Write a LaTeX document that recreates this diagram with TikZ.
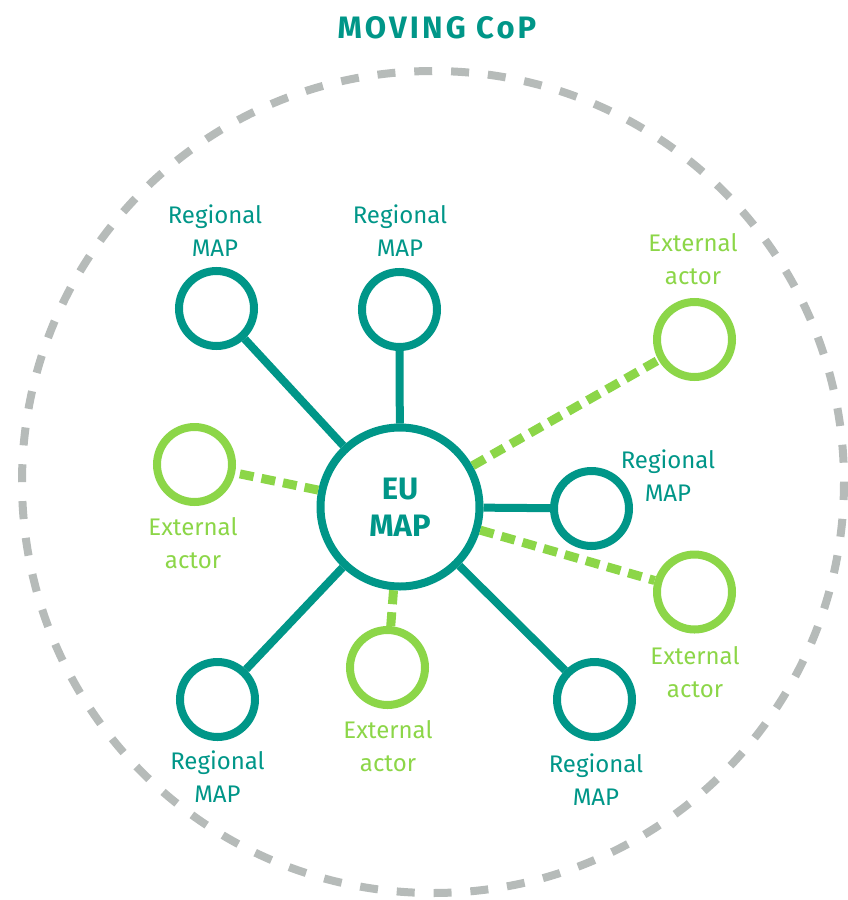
\documentclass[tikz,border=0pt]{standalone}
\usepackage{fontspec}
\setmainfont{Fira Sans}
\newfontfamily\titlefont[LetterSpace=10]{Fira Sans}
\definecolor{cteal}{RGB}{0,150,136}
\definecolor{cgreen}{RGB}{140,214,72}
\definecolor{cgray}{RGB}{182,187,185}
\begin{document}
\begin{tikzpicture}[x=1pt,y=-1pt,
  regnode/.style={circle,draw=cteal,line width=8pt,minimum size=75pt,inner sep=0pt},
  extnode/.style={circle,draw=cgreen,line width=8pt,minimum size=75pt,inner sep=0pt},
  eunode/.style={circle,draw=cteal,line width=8pt,minimum size=159pt,inner sep=0pt},
  reglabel/.style={text=cteal,font=\fontsize{24pt}{33pt}\selectfont,align=center,anchor=base,inner sep=0pt},
  extlabel/.style={text=cgreen,font=\fontsize{24pt}{33pt}\selectfont,align=center,anchor=base,inner sep=0pt},
  solidlink/.style={draw=cteal,line width=8pt},
  dashlink/.style={draw=cgreen,line width=9pt,dash pattern=on 14pt off 8pt},
]
\useasboundingbox (0,0) rectangle (848,900);
% outer dashed community circle
\draw[cgray,line width=8pt,dash pattern=on 18pt off 18.89pt] (433,482) circle[radius=411];
\node[text=cteal,font=\titlefont\fontsize{31pt}{36pt}\selectfont\bfseries,anchor=base,inner sep=0pt] (title) at (437,38) {MOVING CoP};

% central node
\node[eunode,text=cteal,font=\fontsize{31pt}{37pt}\selectfont\bfseries,align=center] (eu) at (400,507) {EU\\MAP};

% regional MAP nodes
\node[regnode] (r1) at (216.5,308.5) {};
\node[regnode] (r2) at (399.5,309.5) {};
\node[regnode] (r3) at (591.5,508.5) {};
\node[regnode] (r4) at (217.5,699.5) {};
\node[regnode] (r5) at (594.5,699.5) {};

% external actor nodes
\node[extnode] (e1) at (694.5,339.5) {};
\node[extnode] (e2) at (194.5,464.5) {};
\node[extnode] (e3) at (694.5,592) {};
\node[extnode] (e4) at (387.5,667.5) {};

% links
\draw[solidlink] (eu) -- (r1);
\draw[solidlink] (eu) -- (r2);
\draw[solidlink] (eu) -- (r3);
\draw[solidlink] (eu) -- (r4);
\draw[solidlink] (eu) -- (r5);
\draw[dashlink] (eu) -- (e1);
\draw[dashlink] (eu) -- (e2);
\draw[dashlink] (eu) -- (e3);
\draw[dashlink] (eu) -- (e4);

% labels (anchor = baseline of the last line)
\node[reglabel] (l1) at (215,256) {Regional\\MAP};
\node[reglabel] (l2) at (400,256) {Regional\\MAP};
\node[reglabel] (l3) at (668,501) {Regional\\MAP};
\node[reglabel] (l4) at (217.5,802) {Regional\\MAP};
\node[reglabel] (l5) at (596,805) {Regional\\MAP};
\node[extlabel] (m1) at (693,284) {External\\actor};
\node[extlabel] (m2) at (193,568) {External\\actor};
\node[extlabel] (m3) at (695,697) {External\\actor};
\node[extlabel] (m4) at (388,771) {External\\actor};
\end{tikzpicture}
\end{document}
